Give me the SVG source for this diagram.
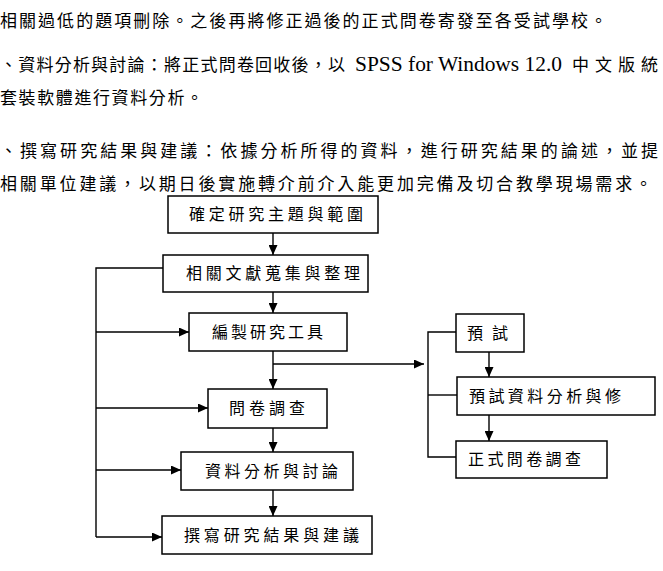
<svg xmlns="http://www.w3.org/2000/svg" width="663" height="571" viewBox="0 0 663 571">
<style>
  .para { font-family: "Noto Sans CJK TC", "Noto Sans CJK SC", sans-serif; font-size: 17px; fill: #000; }
  .lat { font-family: "Liberation Serif", "Times New Roman", serif; font-size: 20px; fill: #000; }
  .box { fill: #fff; stroke: #000; stroke-width: 1.5; }
  .lbl { font-family: "Noto Sans CJK TC", "Noto Sans CJK SC", sans-serif; font-size: 16px; fill: #000; }
  .ln { fill: none; stroke: #000; stroke-width: 1.4; }
  .arr { fill: none; stroke: #000; stroke-width: 1.4; marker-end: url(#ah); }
</style>
<defs>
  <marker id="ah" markerUnits="userSpaceOnUse" markerWidth="10" markerHeight="9" refX="10" refY="4.5" orient="auto">
    <path d="M0,0 L10,4.5 L0,9 z" fill="#000"/>
  </marker>
</defs>
<rect x="0" y="0" width="663" height="571" fill="#fff"/>

<g id="paragraph">
  <text class="para" x="0" y="27" textLength="607" lengthAdjust="spacing">相關過低的題項刪除。之後再將修正過後的正式問卷寄發至各受試學校。</text>
  <text class="para" x="0" y="71" textLength="345" lengthAdjust="spacing">、資料分析與討論：將正式問卷回收後，以</text>
  <text class="lat" x="355" y="71" textLength="207" lengthAdjust="spacingAndGlyphs">SPSS for Windows 12.0</text>
  <text class="para" x="572" y="71" textLength="86" lengthAdjust="spacing">中文版統</text>
  <text class="para" x="0" y="104" textLength="203" lengthAdjust="spacing">套裝軟體進行資料分析。</text>
  <text class="para" x="0" y="157" textLength="658" lengthAdjust="spacing">、撰寫研究結果與建議：依據分析所得的資料，進行研究結果的論述，並提</text>
  <text class="para" x="0" y="190" textLength="652" lengthAdjust="spacing">相關單位建議，以期日後實施轉介前介入能更加完備及切合教學現場需求。</text>
</g>

<g id="connectors">
  <line class="arr" x1="273" y1="233" x2="273" y2="255"/>
  <line class="arr" x1="273" y1="292" x2="273" y2="313"/>
  <line class="arr" x1="273" y1="351" x2="273" y2="389"/>
  <line class="arr" x1="273" y1="428" x2="273" y2="452"/>
  <line class="arr" x1="273" y1="490" x2="273" y2="516"/>
  <polyline class="ln" points="163,268 96,268 96,537"/>
  <line class="arr" x1="96" y1="332" x2="189" y2="332"/>
  <line class="arr" x1="96" y1="408" x2="208" y2="408"/>
  <line class="arr" x1="96" y1="470" x2="181" y2="470"/>
  <line class="arr" x1="96" y1="537" x2="162" y2="537"/>
  <line class="arr" x1="273" y1="364" x2="424" y2="364"/>
  <polyline class="ln" points="456,332 428,332 428,457 456,457"/>
  <line class="ln" x1="428" y1="395" x2="457" y2="395"/>
  <line class="arr" x1="489" y1="352" x2="489" y2="377"/>
  <line class="arr" x1="489" y1="415" x2="489" y2="441"/>
</g>

<g id="n1">
  <rect class="box" x="168" y="196" width="210" height="37"/>
  <text class="lbl" x="189" y="220" textLength="174" lengthAdjust="spacing">確定研究主題與範圍</text>
</g>
<g id="n2">
  <rect class="box" x="163" y="255" width="205" height="37"/>
  <text class="lbl" x="186" y="279" textLength="174" lengthAdjust="spacing">相關文獻蒐集與整理</text>
</g>
<g id="n3">
  <rect class="box" x="189" y="313" width="158" height="38"/>
  <text class="lbl" x="212" y="338" textLength="111" lengthAdjust="spacing">編製研究工具</text>
</g>
<g id="n4">
  <rect class="box" x="208" y="389" width="119" height="39"/>
  <text class="lbl" x="229" y="414" textLength="76" lengthAdjust="spacing">問卷調查</text>
</g>
<g id="n5">
  <rect class="box" x="181" y="452" width="172" height="38"/>
  <text class="lbl" x="205" y="477" textLength="133" lengthAdjust="spacing">資料分析與討論</text>
</g>
<g id="n6">
  <rect class="box" x="162" y="516" width="210" height="38"/>
  <text class="lbl" x="184" y="541" textLength="175" lengthAdjust="spacing">撰寫研究結果與建議</text>
</g>
<g id="n7">
  <rect class="box" x="456" y="314" width="68" height="38"/>
  <text class="lbl" x="467" y="339" textLength="41" lengthAdjust="spacing">預試</text>
</g>
<g id="n8">
  <rect class="box" x="457" y="377" width="198" height="38"/>
  <text class="lbl" x="469" y="402" textLength="152" lengthAdjust="spacing">預試資料分析與修</text>
</g>
<g id="n9">
  <rect class="box" x="456" y="441" width="151" height="37"/>
  <text class="lbl" x="468" y="465" textLength="113" lengthAdjust="spacing">正式問卷調查</text>
</g>
</svg>
